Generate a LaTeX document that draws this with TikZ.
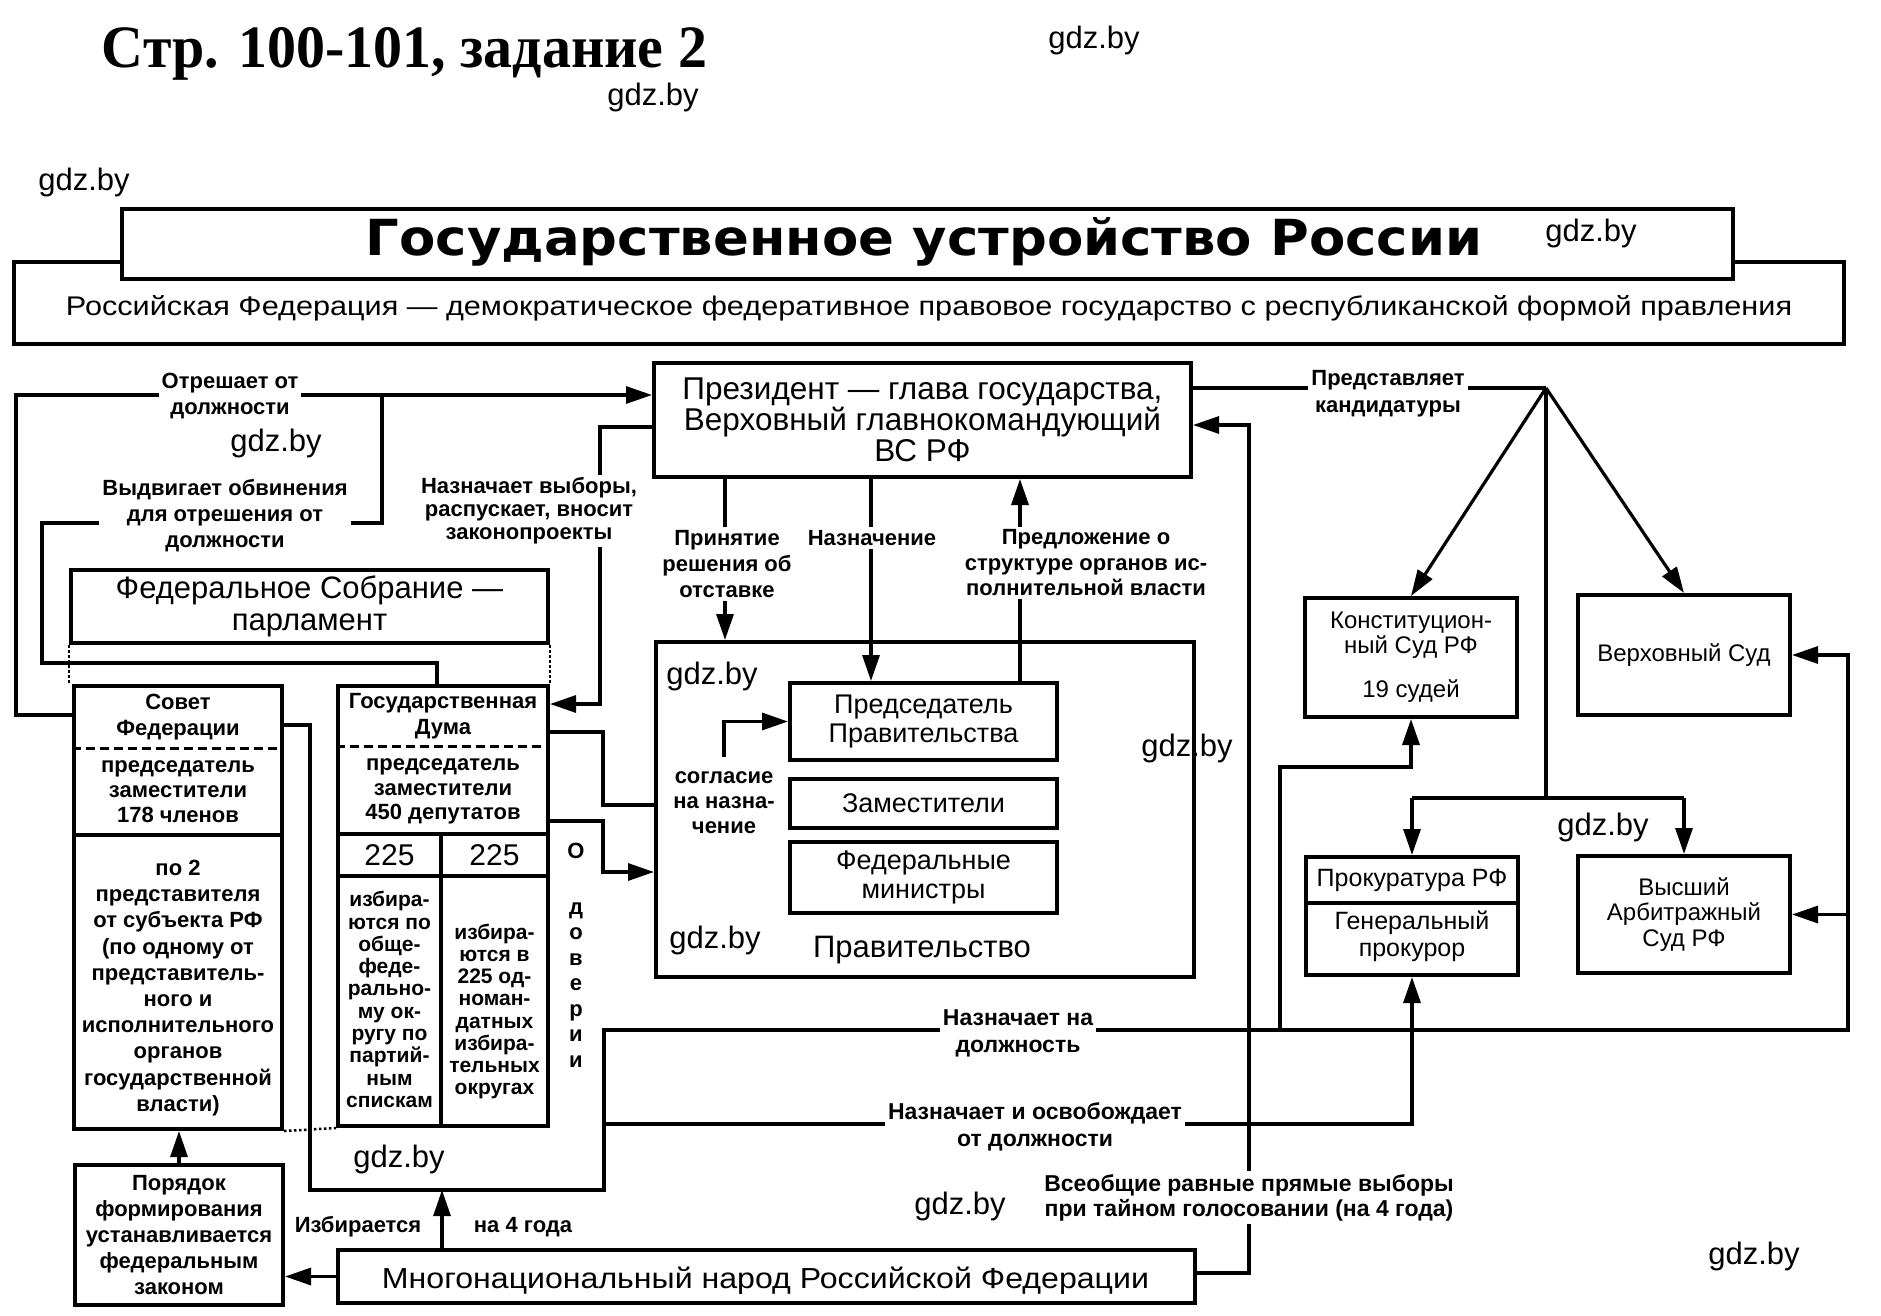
\documentclass[tikz,border=0pt]{standalone}
\usepackage{fontspec}
\usepackage{graphicx}
\usetikzlibrary{arrows.meta}
\setmainfont{Liberation Sans}
\newfontfamily\hdrfont{Liberation Serif}
\newfontfamily\ttlfont{DejaVu Sans}
\newcommand{\fs}[2]{\fontsize{#1pt}{#2pt}\selectfont}

\begin{document}
\begin{tikzpicture}[x=1pt,y=-1pt,
  box/.style={draw, line width=4pt, fill=white, inner sep=0pt},
  ln/.style={line width=3.2pt},
  arr/.style={line width=3.2pt, -{Triangle[length=26pt,width=17pt]}},
  lbl/.style={fill=white, inner sep=3pt, align=center, font=\bfseries\fs{22}{26}},
  wm/.style={font=\fs{31}{31}, inner sep=0pt},
  tx/.style={align=center, inner sep=0pt},
  dashline/.style={line width=3pt, dash pattern=on 9pt off 5pt},
  dotline/.style={line width=2.5pt, dash pattern=on 2.5pt off 2.5pt},
]
\useasboundingbox (0,0) rectangle (1881,1316);
\fill[white] (0,0) rectangle (1881,1316);

% header
\node[anchor=base, inner sep=0pt] (hdr) at (404.5,68) {\resizebox{605pt}{40pt}{\hdrfont\bfseries Стр. 100-101, задание 2}};

% title block
\node[box, minimum width=1830pt, minimum height=82pt] (sub) at (929,303) {};
\node[anchor=base, inner sep=0pt] (subtxt) at (929,315) {\resizebox{1726pt}{20pt}{Российская Федерация — демократическое федеративное правовое государство с республиканской формой правления}};
\node[box, minimum width=1611pt, minimum height=70pt] (ttl) at (927.5,244) {};
\node[anchor=base, inner sep=0pt] (ttltxt) at (924,255) {\resizebox{1116pt}{38pt}{\ttlfont\bfseries Государственное устройство России}};

% president
\node[box, minimum width=537pt, minimum height=114pt, align=center, font=\fs{31.5}{31}] (pres) at (922.5,420) {Президент — глава государства,\\Верховный главнокомандующий\\ВС РФ};

% federal assembly
\node[box, minimum width=477pt, minimum height=73pt, align=center, font=\fs{31}{32}] (fed) at (309.5,606.5) {Федеральное Собрание —\\парламент};

% sovet
\node[box, minimum width=208pt, minimum height=443pt] (sovet) at (178,907.5) {};
\draw[dashline] (sovet.west |- 0,748) -- (sovet.east |- 0,748);
\draw[line width=4pt] (sovet.west |- 0,835) -- (sovet.east |- 0,835);
\node[tx, font=\bfseries\fs{22}{26}] (sovh) at (178,717) {Совет\\Федерации};
\node[tx, font=\bfseries\fs{22}{25}] (sovm) at (178,792) {председатель\\заместители\\178 членов};
\node[tx, font=\bfseries\fs{22}{26.2}] (sovl) at (178,988) {по 2\\представителя\\от субъекта РФ\\(по одному от\\представитель-\\ного и\\исполнительного\\органов\\государственной\\власти)};

% duma
\node[box, minimum width=210pt, minimum height=440pt] (duma) at (443,906) {};
\draw[dashline] (duma.west |- 0,746) -- (duma.east |- 0,746);
\draw[line width=4pt] (duma.west |- 0,834) -- (duma.east |- 0,834);
\draw[line width=4pt] (duma.west |- 0,876) -- (duma.east |- 0,876);
\draw[line width=4pt] (441,834) -- (441,0 |- duma.south);
\node[tx, font=\bfseries\fs{22}{26}] (dumh) at (443,716) {Государственная\\Дума};
\node[tx, font=\bfseries\fs{22}{24.5}] (dumm) at (443,791.5) {председатель\\заместители\\450 депутатов};
\node[tx, font=\fs{30}{30}] (na) at (389.5,855) {225};
\node[tx, font=\fs{30}{30}] (nb) at (494.5,855) {225};
\node[tx, font=\bfseries\fs{21}{22.3}] (dumcl) at (389.5,999.5) {избира-\\ются по\\обще-\\феде-\\рально-\\му ок-\\ругу по\\партий-\\ным\\спискам};
\node[tx, font=\bfseries\fs{21}{22.1}] (dumcr) at (494.5,1011.5) {избира-\\ются в\\225 од-\\номан-\\датных\\избира-\\тельных\\округах};

% dotted outline of the assembly
\draw[dotline] (fed.south west) -- (fed.south west |- sovet.north);
\draw[dotline] (fed.south east) -- (fed.south east |- duma.north);
\draw[dotline] (sovet.south east) -- (duma.south west);

% government
\node[box, minimum width=538pt, minimum height=335pt] (gov) at (925,809.5) {};
\node[tx, font=\fs{31}{31}] (govt) at (922,950) {Правительство};
\node[box, minimum width=267pt, minimum height=77pt, align=center, font=\fs{27}{29}] (pred) at (923.5,721.5) {Председатель\\Правительства};
\node[box, minimum width=267pt, minimum height=49pt, font=\fs{27}{29}] (zam) at (923.5,803.5) {Заместители};
\node[box, minimum width=267pt, minimum height=71pt, align=center, font=\fs{27}{29}] (mins) at (923.5,877.5) {Федеральные\\министры};

% courts
\node[box, minimum width=212pt, minimum height=119pt, align=center, font=\fs{24}{25}] (konst) at (1411,657.5) {Конституцион-\\ный Суд РФ\\[19pt]19 судей};
\node[box, minimum width=212pt, minimum height=120pt, font=\fs{24}{25}] (verkh) at (1684,655) {Верховный Суд};
\node[box, minimum width=212pt, minimum height=118pt] (prok) at (1412,916) {};
\draw[line width=4pt] (prok.west |- 0,903) -- (prok.east |- 0,903);
\node[tx, font=\fs{25}{25}] (prokh) at (1412,880) {Прокуратура РФ};
\node[tx, font=\fs{25}{27}] (prokb) at (1412,936.5) {Генеральный\\прокурор};
\node[box, minimum width=212pt, minimum height=117pt, align=center, font=\fs{24}{25.5}] (arb) at (1684,914.5) {Высший\\Арбитражный\\Суд РФ};

% bottom boxes
\node[box, minimum width=208pt, minimum height=140pt, align=center, font=\bfseries\fs{22}{26.2}] (por) at (179,1235) {Порядок\\формирования\\устанавливается\\федеральным\\законом};
\node[box, minimum width=857pt, minimum height=53pt] (people) at (766.5,1276.5) {};
\node[anchor=base, inner sep=0pt] (peopletxt) at (765.5,1288) {\resizebox{767pt}{21.5pt}{Многонациональный народ Российской Федерации}};

% connectors
\draw[arr] (sovet.west |- 0,715) -- (16,715) -- (16,395) -- (pres.west |- 0,395);
\draw[ln] (437,0 |- duma.north) -- (437,663) -- (42,663) -- (42,523) -- (382,523) -- (382,395);
\draw[arr] (pres.west |- 0,427) -- (600,427) -- (600,704) -- (duma.east |- 0,704);
\draw[ln] (duma.east |- 0,732) -- (603,732) -- (603,805) -- (gov.west |- 0,805);
\draw[arr] (duma.east |- 0,821) -- (603,821) -- (603,872) -- (gov.west |- 0,872);
\draw[arr] (725,0 |- pres.south) -- (725,0 |- gov.north);
\draw[arr] (871,0 |- pres.south) -- (871,0 |- pred.north);
\draw[arr] (1020,0 |- pred.north) -- (1020,0 |- pres.south);
\coordinate (soglstart) at (724,757);
\draw[arr] (soglstart) -- (soglstart |- pred.west) -- (pred.west);

\coordinate (J) at (1546,388);
\draw[ln] (pres.east |- J) -- (J);
\draw[arr] (J) -- (konst.north);
\draw[arr] (J) -- (verkh.north);
\draw[ln] (J) -- (1546,798);
\draw[ln] (prok.north |- 0,798) -- (arb.north |- 0,798);
\draw[arr] (prok.north |- 0,798) -- (prok.north);
\draw[arr] (arb.north |- 0,798) -- (arb.north);

\draw[arr] (sovet.east |- 0,725) -- (310,725) -- (310,1190) -- (604,1190) -- (604,1030) -- (1848,1030) -- (1848,0 |- verkh.east) -- (verkh.east);
\draw[arr] (1848,0 |- arb.east) -- (arb.east);
\draw[arr] (1280,1030) -- (1280,767) -- (konst.south |- 0,767) -- (konst.south);
\draw[arr] (604,1124) -- (prok.south |- 0,1124) -- (prok.south);

\draw[arr] (442,0 |- people.north) -- (442,1190);
\draw[arr] (people.west) -- (people.west -| por.east);
\draw[arr] (por.north) -- (por.north |- sovet.south);
\draw[arr] (people.east |- 0,1273) -- (1249,1273) -- (1249,425) -- (pres.east |- 0,425);

% labels
\node[lbl] (Lotr) at (230,396) {Отрешает от\\должности};
\node[lbl] (Lvyd) at (225,516) {Выдвигает обвинения\\для отрешения от\\должности};
\node[lbl, font=\bfseries\fs{22}{23}] (Lvyb) at (529,511) {Назначает выборы,\\распускает, вносит\\законопроекты};
\node[lbl] (Lprin) at (727,564) {Принятие\\решения об\\отставке};
\node[lbl] (Lnaz) at (872,538) {Назначение};
\node[lbl, font=\bfseries\fs{22}{25.5}] (Lpredl) at (1086,563) {Предложение о\\структуре органов ис-\\полнительной власти};
\node[lbl, font=\bfseries\fs{22}{25}] (Lsogl) at (724,803) {согласие\\на назна-\\чение};
\node[lbl, font=\bfseries\fs{22}{27}] (Lpredst) at (1388,393.5) {Представляет\\кандидатуры};
\node[lbl, font=\bfseries\fs{23}{27}] (Lnazn) at (1018,1033.5) {Назначает на\\должность};
\node[lbl, font=\bfseries\fs{23}{27}] (Losv) at (1035,1126.5) {Назначает и освобождает\\от должности};
\node[lbl, font=\bfseries\fs{23}{25}] (Lvseob) at (1249,1197.5) {Всеобщие равные прямые выборы\\при тайном голосовании (на 4 года)};
\node[lbl] (Lizb) at (358,1227) {Избирается};
\node[lbl] (Lna4) at (523,1227) {на 4 года};
\node[anchor=north, inner sep=0pt, align=center, font=\bfseries\fs{22}{25.5}] (Ldov) at (576,843) {О\\[30pt]д\\о\\в\\е\\р\\и\\и};

% watermarks
\node[wm] (wm1) at (1094,40) {gdz.by};
\node[wm] (wm2) at (653,97) {gdz.by};
\node[wm] (wm3) at (84,182) {gdz.by};
\node[wm] (wm4) at (1591,233) {gdz.by};
\node[wm] (wm5) at (276,443) {gdz.by};
\node[wm] (wm6) at (712,676) {gdz.by};
\node[wm] (wm7) at (1187,748) {gdz.by};
\node[wm] (wm8) at (1603,827) {gdz.by};
\node[wm] (wm9) at (715,940) {gdz.by};
\node[wm] (wm10) at (399,1159) {gdz.by};
\node[wm] (wm11) at (960,1206) {gdz.by};
\node[wm] (wm12) at (1754,1256) {gdz.by};
\end{tikzpicture}
\end{document}
